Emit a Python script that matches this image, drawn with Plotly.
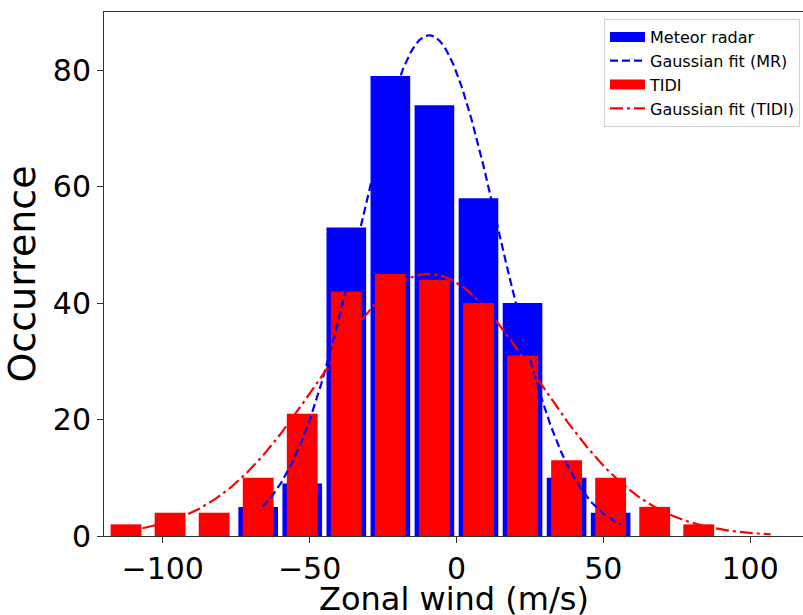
import numpy as np
import plotly.graph_objects as go

# ---- data ----
bin_centers = [-112.5, -97.5, -82.5, -67.5, -52.5, -37.5, -22.5, -7.5,
               7.5, 22.5, 37.5, 52.5, 67.5, 82.5]
mr_counts = [0, 0, 0, 5, 9, 53, 79, 74, 58, 40, 10, 4, 0, 0]
tidi_counts = [2, 4, 4, 10, 21, 42, 45, 44, 40, 31, 13, 10, 5, 2]

# Gaussian fit parameters (amplitude, centre, sigma, x-extent)
mr_fit_amp, mr_fit_mu, mr_fit_sigma = 86.0, -9.3, 23.8
mr_fit_range = [-66.0, 56.0]
tidi_fit_amp, tidi_fit_mu, tidi_fit_sigma = 45.0, -9.5, 36.7
tidi_fit_range = [-115.0, 107.0]

x_ticks = [-100, -50, 0, 50, 100]
y_ticks = [0, 20, 40, 60, 80]
bin_width = 15.0

BLUE = "#0000ff"
RED = "#ff0000"


def gauss(x, a, mu, s):
    return a * np.exp(-(x - mu) ** 2 / (2 * s ** 2))


xm = np.linspace(mr_fit_range[0], mr_fit_range[1], 300)
xt = np.linspace(tidi_fit_range[0], tidi_fit_range[1], 300)

font = "DejaVu Sans"
fig = go.Figure()
fig.add_trace(go.Bar(x=bin_centers, y=mr_counts, width=[bin_width * 0.9] * len(bin_centers),
                     marker=dict(color=BLUE, line=dict(width=0)),
                     name="Meteor radar", showlegend=False))
fig.add_trace(go.Scatter(x=xm, y=gauss(xm, mr_fit_amp, mr_fit_mu, mr_fit_sigma), mode="lines",
                         line=dict(color=BLUE, width=2.2, dash="8px,4px"),
                         name="Gaussian fit (MR)", legendgroup="b", legendrank=2))
fig.add_trace(go.Bar(x=bin_centers, y=tidi_counts, width=[bin_width * 0.7] * len(bin_centers),
                     marker=dict(color=RED, line=dict(width=0)),
                     name="TIDI", showlegend=False))
fig.add_trace(go.Scatter(x=xt, y=gauss(xt, tidi_fit_amp, tidi_fit_mu, tidi_fit_sigma), mode="lines",
                         line=dict(color=RED, width=2.2, dash="13px,4px,3px,4px"),
                         name="Gaussian fit (TIDI)", legendgroup="d", legendrank=4))
# legend patches (wide rectangles like the reference)
fig.add_trace(go.Scatter(x=[None], y=[None], mode="lines", line=dict(color=BLUE, width=10),
                         name="Meteor radar", legendgroup="a", legendrank=1))
fig.add_trace(go.Scatter(x=[None], y=[None], mode="lines", line=dict(color=RED, width=10),
                         name="TIDI", legendgroup="c", legendrank=3))

fig.update_layout(
    width=803, height=615,
    margin=dict(l=104, r=0, t=12, b=79),
    paper_bgcolor="white", plot_bgcolor="white",
    barmode="overlay",
    font=dict(family=font, color="black"),
    legend=dict(x=0.9957, y=0.9866, xanchor="right", yanchor="top",
                bgcolor="white", bordercolor="#d0d0d0", borderwidth=1,
                font=dict(size=16, family=font), tracegroupgap=0, itemwidth=35),
    xaxis=dict(range=[-120, 118], tickvals=x_ticks, ticks="outside", ticklen=6,
               tickcolor="#333", tickfont=dict(size=30), showgrid=False, zeroline=False,
               showline=True, linecolor="#333", linewidth=1, mirror=True, automargin=False),
    yaxis=dict(range=[0, 90], tickvals=y_ticks, ticks="outside", ticklen=6,
               tickcolor="#333", tickfont=dict(size=30), showgrid=False, zeroline=False,
               showline=True, linecolor="#333", linewidth=1, automargin=False,
               title=dict(text="Occurrence", font=dict(size=38), standoff=5)),
    annotations=[dict(text="Zonal wind (m/s)", xref="paper", yref="paper",
                      x=0.5, y=-42 / 524, xanchor="center", yanchor="top",
                      showarrow=False, font=dict(size=32, family=font))],
)

fig.write_html("out.html")
